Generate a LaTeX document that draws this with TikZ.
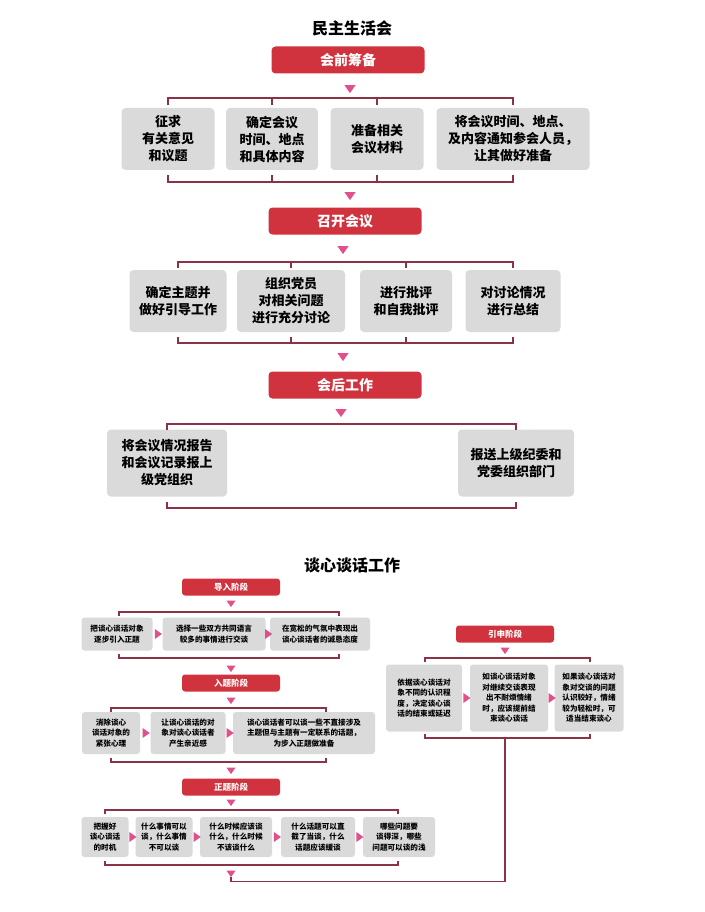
\documentclass[tikz,border=0pt]{standalone}
\usepackage{fontspec}
\setmainfont{Noto Sans CJK SC}
\usetikzlibrary{shapes.geometric,calc}
\definecolor{hdred}{RGB}{208,50,62}
\definecolor{boxgray}{RGB}{218,218,218}
\definecolor{brkred}{RGB}{140,50,70}
\definecolor{tripink}{RGB}{226,80,140}

\tikzset{
  head/.style={draw=none, fill=hdred, rounded corners=4pt, text=white, font=\bfseries\fontsize{14}{16}\selectfont, minimum width=153pt, minimum height=27pt},
  smallhead/.style={head, rounded corners=3pt, font=\bfseries\fontsize{8.5}{10}\selectfont, minimum width=98pt, minimum height=17pt},
  card/.style={fill=boxgray, rounded corners=4pt, align=center, font=\bfseries\fontsize{13}{17}\selectfont, inner sep=2pt},
  smallcard/.style={card, rounded corners=3pt, font=\bfseries\fontsize{7.6}{10.5}\selectfont, inner sep=1pt},
  down/.style={isosceles triangle, shape border rotate=-90, fill=tripink, minimum width=11pt, minimum height=8pt, isosceles triangle apex angle=70, inner sep=0pt},
  side/.style={isosceles triangle, fill=tripink, minimum width=8pt, minimum height=7pt, isosceles triangle apex angle=70, inner sep=0pt},
  brk/.style={draw=brkred, line width=1.6pt},
}

\begin{document}
\begin{tikzpicture}[x=1pt, y=-1pt]
  \useasboundingbox (0,0) rectangle (704,912);

  % ---- 民主生活会 ----
  \node[font=\bfseries\fontsize{16}{18}\selectfont] (title1) at (352,28) {民主生活会};

  \node[head] (prep) at (348,60) {会前筹备};
  \node[down] (t1) at (350,88) {};
  \node[card, minimum width=93pt, minimum height=62pt] (p1) at (168,139) {征求\\有关意见\\和议题};
  \node[card, minimum width=92pt, minimum height=62pt] (p2) at (272,139) {确定会议\\时间、地点\\和具体内容};
  \node[card, minimum width=93pt, minimum height=62pt] (p3) at (377,139) {准备相关\\会议材料};
  \node[card, minimum width=153pt, minimum height=62pt] (p4) at (513,139) {将会议时间、地点、\\及内容通知参会人员，\\让其做好准备};
  \draw[brk] (p1|-0,105) -- (p1|-0,98) -- (p4|-0,98) -- (p4|-0,105);
  \draw[brk] (p1|-0,175) -- (p1|-0,182) -- (p4|-0,182) -- (p4|-0,175);
  \foreach \b in {p2,p3} {
    \draw[brk] (\b|-0,98) -- (\b|-0,105);
    \draw[brk] (\b|-0,182) -- (\b|-0,175);
  }
  \node[down] (t2) at (350,195) {};

  \node[head] (meet) at (345,221) {召开会议};
  \node[down] (t3) at (343,249) {};
  \node[card, minimum width=97pt, minimum height=62pt] (m1) at (178,301) {确定主题并\\做好引导工作};
  \node[card, minimum width=108pt, minimum height=62pt] (m2) at (291,301) {组织党员\\对相关问题\\进行充分讨论};
  \node[card, minimum width=92pt, minimum height=62pt] (m3) at (406,301) {进行批评\\和自我批评};
  \node[card, minimum width=95pt, minimum height=62pt] (m4) at (513,301) {对讨论情况\\进行总结};
  \draw[brk] (m1|-0,268) -- (m1|-0,262) -- (m4|-0,262) -- (m4|-0,268);
  \draw[brk] (m1|-0,337) -- (m1|-0,343) -- (m4|-0,343) -- (m4|-0,337);
  \foreach \b in {m2,m3} {
    \draw[brk] (\b|-0,262) -- (\b|-0,268);
    \draw[brk] (\b|-0,343) -- (\b|-0,337);
  }
  \node[down] (t4) at (343,356) {};

  \node[head] (after) at (345,385) {会后工作};
  \node[down] (t5) at (341,412) {};
  \node[card, minimum width=120pt, minimum height=67pt] (a1) at (167,463) {将会议情况报告\\和会议记录报上\\级党组织};
  \node[card, minimum width=116pt, minimum height=67pt] (a2) at (516,463) {报送上级纪委和\\党委组织部门};
  \draw[brk] (a1|-0,430) -- (a1|-0,424) -- (a2|-0,424) -- (a2|-0,430);
  \draw[brk] (a1|-0,502) -- (a1|-0,508) -- (a2|-0,508) -- (a2|-0,502);

  % ---- 谈心谈话工作 ----
  \node[font=\bfseries\fontsize{16}{18}\selectfont] (title2) at (352,565) {谈心谈话工作};

  % 导入阶段
  \node[smallhead] (lead) at (231,587) {导入阶段};
  \node[down, minimum width=9pt, minimum height=6pt] (s1) at (231,603) {};
  \node[smallcard, minimum width=71pt, minimum height=33pt] (l1) at (117,634) {把谈心谈话对象\\逐步引入正题};
  \node[smallcard, minimum width=103pt, minimum height=33pt] (l2) at (214,634) {选择一些双方共同语言\\较多的事情进行交谈};
  \node[smallcard, minimum width=100pt, minimum height=33pt] (l3) at (320,634) {在宽松的气氛中表现出\\谈心谈话者的诚恳态度};
  \node[side] at ($(l1.east)!0.5!(l2.west)$) {};
  \node[side] at ($(l2.east)!0.5!(l3.west)$) {};
  \draw[brk, line width=1.2pt] (119,616) -- (119,612) -- (339,612) -- (339,616);
  \draw[brk, line width=1.2pt] (119,654) -- (119,658) -- (339,658) -- (339,654);
  \node[down, minimum width=9pt, minimum height=6pt] (s2) at (231,668) {};

  % 入题阶段
  \node[smallhead] (enter) at (231,683) {入题阶段};
  \node[down, minimum width=9pt, minimum height=6pt] (s3) at (231,700) {};
  \node[smallcard, minimum width=58pt, minimum height=42pt] (e1) at (111,733) {消除谈心\\谈话对象的\\紧张心理};
  \node[smallcard, minimum width=75pt, minimum height=42pt] (e2) at (188,733) {让谈心谈话的对\\象对谈心谈话者\\产生亲近感};
  \node[smallcard, minimum width=142pt, minimum height=42pt] (e3) at (304,733) {谈心谈话者可以谈一些不直接涉及\\主题但与主题有一定联系的话题，\\为步入正题做准备};
  \node[side] at ($(e1.east)!0.5!(e2.west)$) {};
  \node[side] at ($(e2.east)!0.5!(e3.west)$) {};
  \draw[brk, line width=1.2pt] (111,712) -- (111,708) -- (326,708) -- (326,712);
  \draw[brk, line width=1.2pt] (111,758) -- (111,762) -- (326,762) -- (326,758);
  \node[down, minimum width=9pt, minimum height=6pt] (s4) at (231,770) {};

  % 正题阶段
  \node[smallhead] (main) at (231,787) {正题阶段};
  \node[down, minimum width=9pt, minimum height=6pt] (s5) at (231,802) {};
  \node[smallcard, minimum width=47pt, minimum height=40pt] (z1) at (105,837) {把握好\\谈心谈话\\的时机};
  \node[smallcard, minimum width=57pt, minimum height=40pt] (z2) at (164,837) {什么事情可以\\谈，什么事情\\不可以谈};
  \node[smallcard, minimum width=72pt, minimum height=40pt] (z3) at (236,837) {什么时候应该谈\\什么，什么时候\\不该谈什么};
  \node[smallcard, minimum width=74pt, minimum height=40pt] (z4) at (318,837) {什么话题可以直\\截了当谈，什么\\话题应该缓谈};
  \node[smallcard, minimum width=72pt, minimum height=40pt] (z5) at (399,837) {哪些问题要\\谈得深，哪些\\问题可以谈的浅};
  \foreach \a/\b in {z1/z2,z2/z3,z3/z4,z4/z5}
    \node[side] at ($(\a.east)!0.5!(\b.west)$) {};
  \draw[brk, line width=1.2pt] (105,814) -- (105,810) -- (398,810) -- (398,814);
  \draw[brk, line width=1.2pt] (105,861) -- (105,865) -- (398,865) -- (398,861);
  \node[down, minimum width=9pt, minimum height=6pt] (s6) at (231,873) {};

  % 引申阶段
  \node[smallhead] (ext) at (505,634) {引申阶段};
  \node[down, minimum width=9pt, minimum height=6pt] (s7) at (505,650) {};
  \node[smallcard, minimum width=76pt, minimum height=67pt] (x1) at (424,698) {依据谈心谈话对\\象不同的认识程\\度，决定谈心谈\\话的结束或延迟};
  \node[smallcard, minimum width=78pt, minimum height=67pt] (x2) at (509,698) {如谈心谈话对象\\对继续交谈表现\\出不耐烦情绪\\时，应该提前结\\束谈心谈话};
  \node[smallcard, minimum width=69pt, minimum height=67pt] (x3) at (589,698) {如果谈心谈话对\\象对交谈的问题\\认识较好，情绪\\较为轻松时，可\\适当结束谈心};
  \node[side] at ($(x1.east)!0.5!(x2.west)$) {};
  \node[side] at ($(x2.east)!0.5!(x3.west)$) {};
  \draw[brk, line width=1.2pt] (425,662) -- (425,658) -- (590,658) -- (590,662);
  \draw[brk, line width=1.2pt] (425,734) -- (425,738) -- (590,738) -- (590,734);

  % 连接线
  \draw[brk, line width=1.2pt] (s6.south) -- ++(0,4) -| (505,738);
\end{tikzpicture}
\end{document}
